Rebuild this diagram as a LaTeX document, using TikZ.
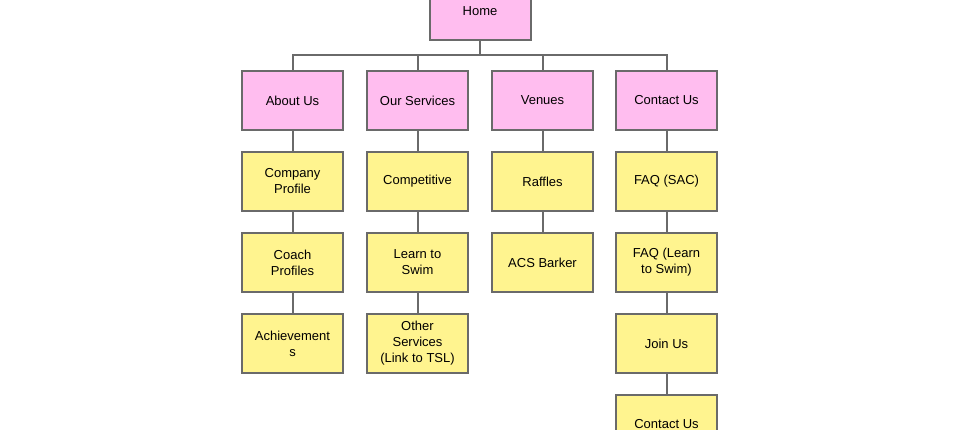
\documentclass[tikz,border=0pt]{standalone}
\usepackage{fontspec}
\setmainfont{Liberation Sans}
\definecolor{pinkfill}{HTML}{FFBDEF}
\definecolor{yellowfill}{HTML}{FFF48F}
\definecolor{edgegray}{HTML}{6A6A6A}
\tikzset{
  page/.style={draw=edgegray, line width=2pt, minimum width=101pt, minimum height=59pt,
    inner sep=2pt, align=center, font=\fontsize{13}{16}\selectfont, text=black},
  toppage/.style={page, fill=pinkfill},
  subpage/.style={page, fill=yellowfill},
  link/.style={draw=edgegray, line width=2pt}
}
\begin{document}
\begin{tikzpicture}[x=1pt, y=-1pt]
\useasboundingbox (0,0) rectangle (960,430);
% root
\node[toppage] (home) at (480,11) {Home};
% main sections
\node[toppage] (about)    at (292.5,100.5) {About Us};
\node[toppage] (services) at (417.5,100.5) {Our Services};
\node[toppage] (venues)   at (542.5,100.5) {Venues};
\node[toppage] (contact)  at (666.5,100.5) {Contact Us};
% About Us pages
\node[subpage] (profile)  at (292.5,181.5) {Company\\Profile};
\node[subpage] (coaches)  at (292.5,262.5) {Coach\\Profiles};
\node[subpage] (achieve)  at (292.5,343.5) {Achievement\\s};
% Our Services pages
\node[subpage] (compet)   at (417.5,181.5) {Competitive};
\node[subpage] (learn)    at (417.5,262.5) {Learn to\\Swim};
\node[subpage] (other)    at (417.5,343.5) {Other\\Services\\(Link to TSL)};
% Venues pages
\node[subpage] (raffles)  at (542.5,181.5) {Raffles};
\node[subpage] (barker)   at (542.5,262.5) {ACS Barker};
% Contact Us pages
\node[subpage] (faqsac)   at (666.5,181.5) {FAQ (SAC)};
\node[subpage] (faqlearn) at (666.5,262.5) {FAQ (Learn\\to Swim)};
\node[subpage] (join)     at (666.5,343.5) {Join Us};
\node[subpage] (contactus) at (666.5,424.5) {Contact Us};
% bus from the root to the sections
\coordinate (bus) at (480,55);
\draw[link] (home.south) -- (bus);
\draw[link] (about.north) -- (about.north |- bus) -- (contact.north |- bus) -- (contact.north);
\draw[link] (services.north) -- (services.north |- bus);
\draw[link] (venues.north) -- (venues.north |- bus);
% vertical chains
\draw[link] (about.south) -- (profile.north) (profile.south) -- (coaches.north) (coaches.south) -- (achieve.north);
\draw[link] (services.south) -- (compet.north) (compet.south) -- (learn.north) (learn.south) -- (other.north);
\draw[link] (venues.south) -- (raffles.north) (raffles.south) -- (barker.north);
\draw[link] (contact.south) -- (faqsac.north) (faqsac.south) -- (faqlearn.north) (faqlearn.south) -- (join.north) (join.south) -- (contactus.north);
\end{tikzpicture}
\end{document}
